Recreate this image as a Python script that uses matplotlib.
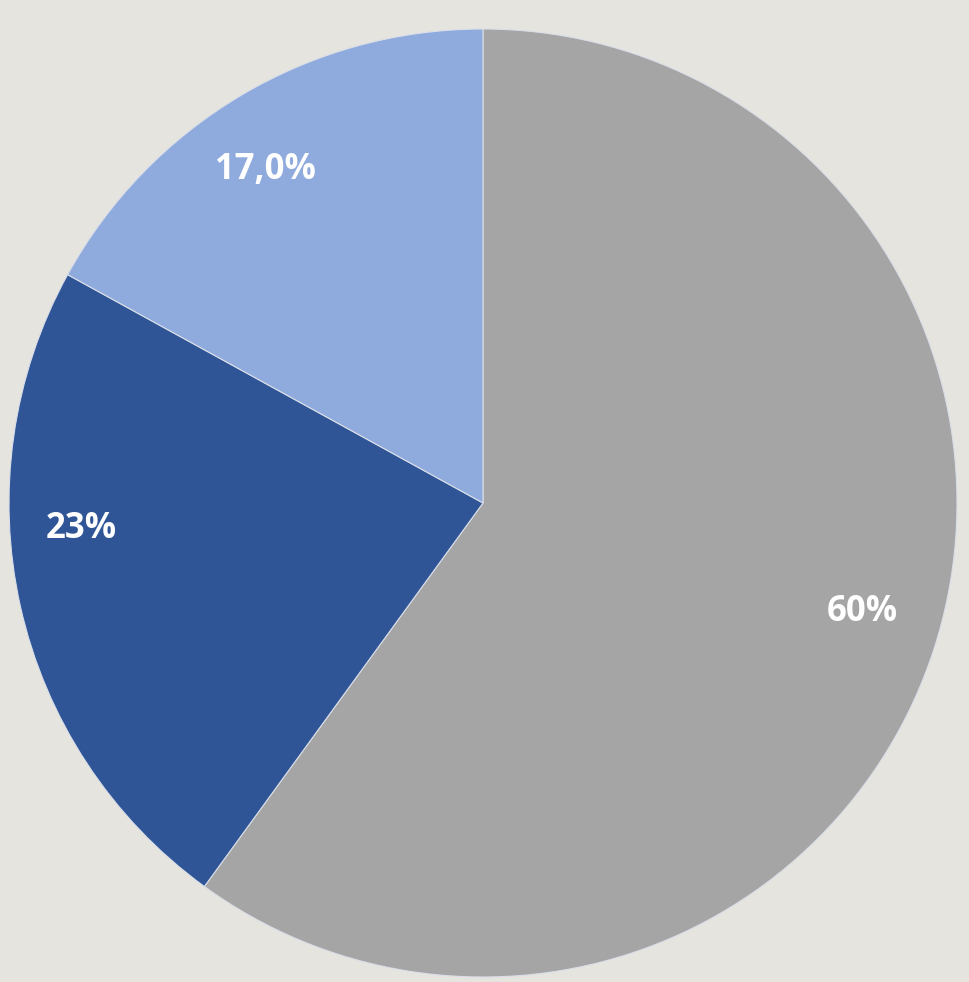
import numpy as np
import matplotlib.pyplot as plt

# data
shares = [60, 23, 17]
labels = ["60%", "23%", "17,0%"]
colors = ["#A5A5A5", "#2F5597", "#8FAADC"]

# label placement (angle in deg, radius as fraction of pie radius)
label_pos = [(-16.0, 0.832), (-176.3, 0.85), (123.1, 0.839)]

fig = plt.figure(figsize=(9.69, 9.82), dpi=100)
fig.patch.set_facecolor("#E5E4DE")

ax = fig.add_axes([9 / 969, 5 / 982, 948 / 969, 948 / 982])
ax.set_facecolor("none")

wedges, _ = ax.pie(shares, colors=colors, startangle=90, counterclock=False,
                   radius=1, wedgeprops=dict(edgecolor="#D9DEE8", linewidth=0.8))

for txt, (ang, r) in zip(labels, label_pos):
    a = np.deg2rad(ang)
    ax.text(r * np.cos(a), r * np.sin(a), txt, ha="center", va="center",
            color="white", fontsize=25, fontweight="bold", family="Open Sans")

ax.set_xlim(-1, 1)
ax.set_ylim(-1, 1)
ax.set_aspect("equal")
ax.axis("off")

fig.savefig("out.png", dpi=100, facecolor=fig.get_facecolor())
